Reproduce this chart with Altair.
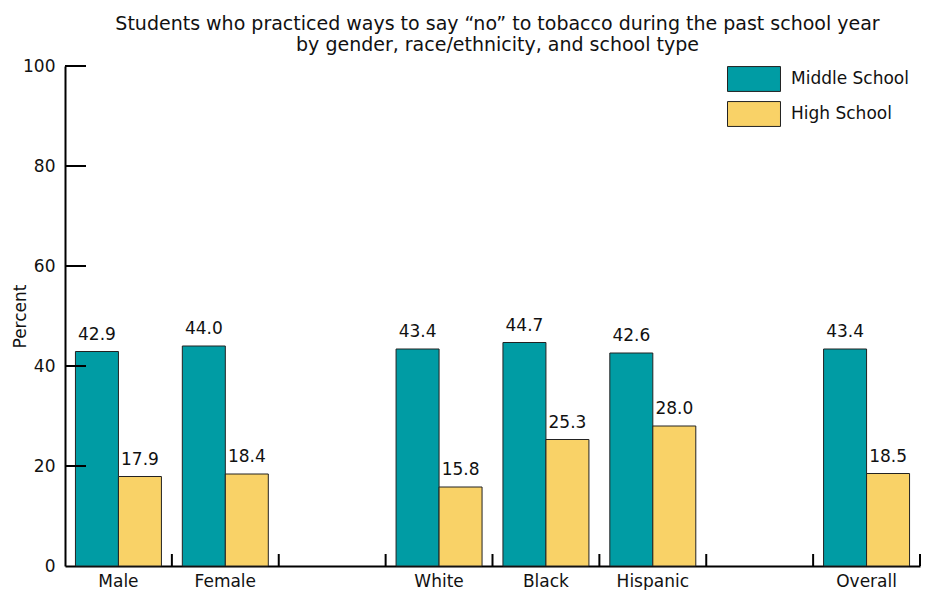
import altair as alt
import pandas as pd

categories = ["Male", "Female", "gap1", "White", "Black", "Hispanic", "gap2", "Overall"]
groups = ["Male", "Female", "White", "Black", "Hispanic", "Overall"]
series = ["Middle School", "High School"]
middle = [42.9, 44.0, 43.4, 44.7, 42.6, 43.4]
high = [17.9, 18.4, 15.8, 25.3, 28.0, 18.5]
y_ticks = [20, 40, 60, 80, 100]

rows = []
for g, m, h in zip(groups, middle, high):
    rows.append({"cat": g, "school": "Middle School", "value": m})
    rows.append({"cat": g, "school": "High School", "value": h})
df = pd.DataFrame(rows)
df_cats = pd.DataFrame({"cat": categories})
df_yt = pd.DataFrame({"v": y_ticks})

FONT = "DejaVu Sans"
W, H = 855, 500
FS = 17

x_enc = alt.X(
    "cat:N",
    scale=alt.Scale(domain=categories, paddingInner=0, paddingOuter=0),
    sort=categories,
    axis=alt.Axis(
        title=None, labelAngle=0, ticks=False, labelPadding=7, labelFontSize=FS,
        labelColor="#111", domainColor="#000", domainWidth=2,
        labelExpr="indexof(datum.label, 'gap') == 0 ? '' : datum.label",
    ),
)
xoff = alt.XOffset(
    "school:N",
    scale=alt.Scale(domain=series, paddingInner=0, paddingOuter=0.243),
)
y_enc = alt.Y(
    "value:Q",
    scale=alt.Scale(domain=[0, 100]),
    axis=alt.Axis(
        title="Percent", values=[0, 20, 40, 60, 80, 100], ticks=False, grid=False,
        labelPadding=10, labelFontSize=FS, labelColor="#111", titleFontSize=FS,
        titleFontWeight="normal", titleColor="#111",
        titleX=-36, titleY=H / 2, titleAngle=270, titleAlign="center",
        titleBaseline="bottom",
        domainColor="#000", domainWidth=2,
    ),
)

bars = alt.Chart(df).mark_bar(stroke="#222", strokeWidth=1).encode(
    x=x_enc,
    xOffset=xoff,
    y=y_enc,
    color=alt.Color(
        "school:N",
        scale=alt.Scale(domain=series, range=["#009CA4", "#F9D267"]),
        legend=alt.Legend(
            title=None, orient="none", legendX=675, legendY=-1,
            symbolType="M-2,-0.94H2V0.94H-2Z", symbolSize=702,
            symbolStrokeColor="#222", symbolStrokeWidth=1, symbolOpacity=1,
            labelFontSize=FS, labelOffset=23, labelColor="#111",
            rowPadding=5, padding=0,
        ),
    ),
)

labels = alt.Chart(df).mark_text(
    baseline="bottom", dy=-8, fontSize=FS, color="#111", font=FONT
).encode(
    x=alt.X("cat:N", sort=categories),
    xOffset=alt.XOffset("school:N"),
    y="value:Q",
    text=alt.Text("value:Q", format=".1f"),
)

xticks = alt.Chart(df_cats).mark_rule(color="#000", strokeWidth=2).encode(
    x=alt.X("cat:N", sort=categories, bandPosition=1),
    y=alt.value(H),
    y2=alt.value(H - 12),
)

yticks = alt.Chart(df_yt).mark_rule(color="#000", strokeWidth=2).encode(
    y=alt.Y("v:Q"),
    x=alt.value(0),
    x2=alt.value(21),
)

chart = (
    alt.layer(bars, labels, xticks, yticks)
    .properties(
        width=W,
        height=H,
        autosize=alt.AutoSizeParams(type="none"),
        padding={"left": 57, "top": 58, "right": 2, "bottom": 24},
        title=alt.Title(
            ["Students who practiced ways to say \u201cno\u201d to tobacco during the past school year",
             "by gender, race/ethnicity, and school type"],
            fontSize=19, fontWeight="normal", color="#111", font=FONT,
            anchor="middle", offset=2, lineHeight=21, dx=5,
        ),
    )
    .configure(font=FONT)
    .configure_view(stroke=None)
)

chart.save("out.html", embed_options={"renderer": "svg", "actions": False})
